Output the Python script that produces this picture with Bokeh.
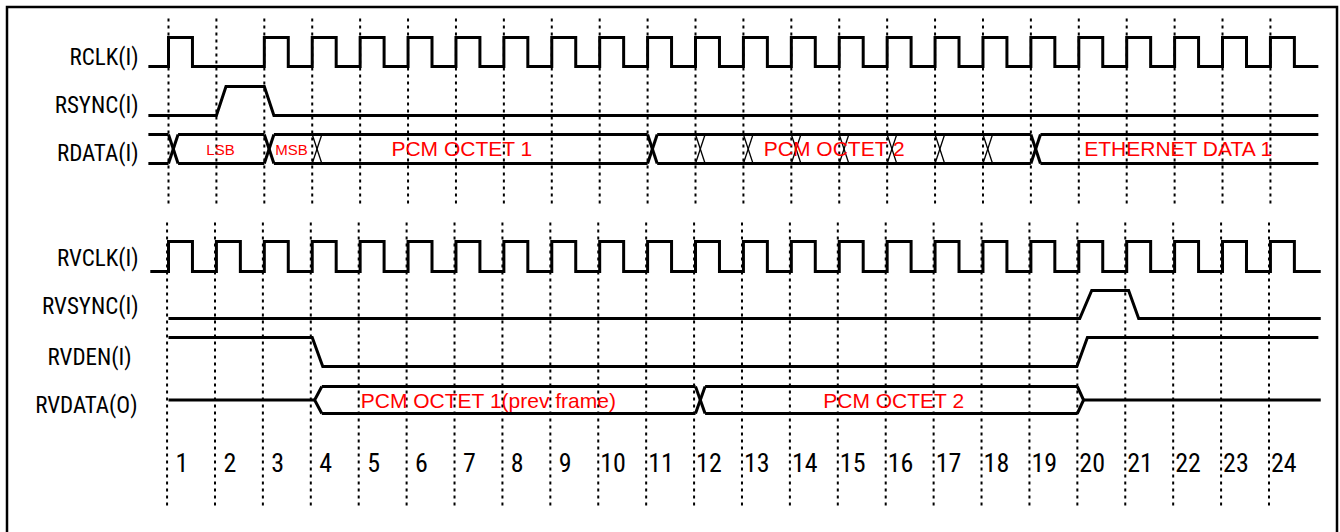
from bokeh.plotting import figure
from bokeh.models import Range1d
from bokeh.core.properties import value
from bokeh.embed import file_html
from bokeh.resources import INLINE

# ---------------- data ----------------
cycles = [1, 2, 3, 4, 5, 6, 7, 8, 9, 10, 11, 12, 13, 14, 15, 16, 17, 18, 19, 20, 21, 22, 23, 24]
cycle_labels = ["1", "2", "3", "4", "5", "6", "7", "8", "9", "10", "11", "12",
                "13", "14", "15", "16", "17", "18", "19", "20", "21", "22", "23", "24"]

signal_names = ["RCLK(I)", "RSYNC(I)", "RDATA(I)", "RVCLK(I)", "RVSYNC(I)", "RVDEN(I)", "RVDATA(O)"]

# clocks: cycles that carry a high pulse (half a cycle long)
rclk_pulses = [1, 3, 4, 5, 6, 7, 8, 9, 10, 11, 12, 13, 14, 15, 16, 17, 18, 19, 20, 21, 22, 23, 24]
rclk_span = [0.58, 25.0]
rvclk_pulses = [1, 2, 3, 4, 5, 6, 7, 8, 9, 10, 11, 12, 13, 14, 15, 16, 17, 18, 19, 20, 21, 22, 23, 24]
rvclk_span = [0.62, 25.05]

# level signals: (time, level)
rsync_t = [0.58, 2.0, 2.2, 3.0, 3.2, 25.0]
rsync_lv = [0, 0, 1, 1, 0, 0]
rvsync_t = [1.0, 20.02, 20.27, 21.04, 21.25, 25.05]
rvsync_lv = [0, 0, 1, 1, 0, 0]
rvden_t = [1.0, 4.0, 4.22, 19.96, 20.18, 25.0]
rvden_lv = [1, 1, 0, 0, 1, 1]

# RDATA bus
rdata_span = [0.58, 25.0]
rdata_major = [1, 3, 11, 19]
rdata_minor = [4, 12, 13, 14, 15, 16, 17, 18]
rdata_fields = ["LSB", "MSB", "PCM OCTET 1", "PCM OCTET 2", "ETHERNET DATA 1"]
rdata_field_t = [2.085, 3.567, 7.126, 14.90, 22.09]
rdata_field_small = [True, True, False, False, False]

# RVDATA bus (idle -> valid -> idle)
rvdata_idle1 = [1.0, 4.05]
rvdata_open = [4.05, 4.2]
rvdata_major = [12]
rvdata_close = [19.97, 20.1]
rvdata_idle2 = [20.1, 25.05]
rvdata_fields = ["PCM OCTET 1(prev frame)", "PCM OCTET 2"]
rvdata_field_t = [7.68, 16.14]

# ---------------- layout (page pixels) ----------------
W, H = 1340, 532
PX = 47.91                # pixels per cycle
X1 = 168.0                # page x of cycle 1
def tx(px):               # page x -> time
    return 1 + (px - X1) / PX

row_high = [37, 86, 134, 241, 290, 337, 386]
row_low = [66, 115, 163, 271, 318, 366, 413]
label_mid = [57, 105, 153, 258, 306, 357, 405]
label_right = [138, 138, 138, 138, 138, 131, 137]
XW = 0.2                  # crossing width (cycles)
NARROW = value("Liberation Sans Narrow, Noto Sans Condensed, Roboto Condensed, Roboto")

p = figure(width=W, height=H, output_backend="svg", toolbar_location=None,
           x_range=Range1d(tx(0), tx(W)), y_range=Range1d(H, 0),
           min_border=0, outline_line_color=None)
p.axis.visible = False
p.xgrid.visible = False
p.ygrid.visible = False
p.background_fill_color = "white"
p.border_fill_color = "white"

# outer frame
p.line(x=[tx(6.5), tx(6.5), tx(1336.5), tx(1336.5)], y=[600, 6.5, 6.5, 600],
       line_color="black", line_width=2.5, line_join="miter")

# dotted cycle markers
p.segment(x0=cycles, y0=[18] * 24, x1=cycles, y1=[204] * 24,
          line_color="black", line_width=2, line_dash="3 4")
p.segment(x0=[c - 0.03 for c in cycles], y0=[222] * 24, x1=[c - 0.03 for c in cycles], y1=[508] * 24,
          line_color="black", line_width=2, line_dash="3 4")

LW = 3

def clock(pulses, span, lo, hi):
    xs, ys = [span[0]], [lo]
    for c in pulses:
        xs += [c, c, c + 0.5, c + 0.5]
        ys += [lo, hi, hi, lo]
    xs.append(span[1]); ys.append(lo)
    p.line(xs, ys, line_color="black", line_width=LW, line_join="miter")

def level(ts, lvs, lo, hi):
    p.line(ts, [hi if v else lo for v in lvs], line_color="black", line_width=LW, line_join="miter")

clock(rclk_pulses, rclk_span, row_low[0], row_high[0])
level(rsync_t, rsync_lv, row_low[1], row_high[1])
clock(rvclk_pulses, rvclk_span, row_low[3], row_high[3])
level(rvsync_t, rvsync_lv, row_low[4], row_high[4])
level(rvden_t, rvden_lv, row_low[5], row_high[5])

# RDATA bus
top, bot = row_high[2], row_low[2]
edges = [rdata_span[0]] + [m for c in rdata_major for m in (c, c + XW)] + [rdata_span[1]]
seg_x0 = edges[0::2]; seg_x1 = edges[1::2]
p.segment(x0=seg_x0, y0=[top] * len(seg_x0), x1=seg_x1, y1=[top] * len(seg_x0), line_color="black", line_width=LW)
p.segment(x0=seg_x0, y0=[bot] * len(seg_x0), x1=seg_x1, y1=[bot] * len(seg_x0), line_color="black", line_width=LW)
p.segment(x0=rdata_major, y0=[top] * 4, x1=[c + XW for c in rdata_major], y1=[bot] * 4, line_color="black", line_width=LW)
p.segment(x0=rdata_major, y0=[bot] * 4, x1=[c + XW for c in rdata_major], y1=[top] * 4, line_color="black", line_width=LW)
n = len(rdata_minor)
p.segment(x0=rdata_minor, y0=[top] * n, x1=[c + XW for c in rdata_minor], y1=[bot] * n, line_color="black", line_width=1.3)
p.segment(x0=rdata_minor, y0=[bot] * n, x1=[c + XW for c in rdata_minor], y1=[top] * n, line_color="black", line_width=1.3)

# RVDATA bus
top, bot = row_high[6], row_low[6]
mid = (top + bot) / 2
p.line(rvdata_idle1, [mid, mid], line_color="black", line_width=LW)
p.line(rvdata_idle2, [mid, mid], line_color="black", line_width=LW)
m = rvdata_major[0]
p.line([rvdata_open[1], rvdata_open[0], rvdata_open[1]], [top, mid, bot], line_color="black", line_width=LW, line_join="miter")
p.line([rvdata_close[0], rvdata_close[1], rvdata_close[0]], [top, mid, bot], line_color="black", line_width=LW, line_join="miter")
p.segment(x0=[rvdata_open[1], m + XW], y0=[top, top], x1=[m, rvdata_close[0]], y1=[top, top], line_color="black", line_width=LW)
p.segment(x0=[rvdata_open[1], m + XW], y0=[bot, bot], x1=[m, rvdata_close[0]], y1=[bot, bot], line_color="black", line_width=LW)
p.segment(x0=[m, m], y0=[top, bot], x1=[m + XW, m + XW], y1=[bot, top], line_color="black", line_width=LW)

# signal names
p.text(x=[tx(r) for r in label_right], y=label_mid, text=signal_names,
       text_font=NARROW, text_font_size="23px",
       text_align="right", text_baseline="middle", text_color="black")

# cycle numbers
p.text(x=[c + 0.28 for c in cycles], y=[462] * 24, text=cycle_labels,
       text_font=NARROW, text_font_size="26px",
       text_align="center", text_baseline="middle", text_color="black")

# bus contents
big = [i for i, s in enumerate(rdata_field_small) if not s]
small = [i for i, s in enumerate(rdata_field_small) if s]
p.text(x=[rdata_field_t[i] for i in small], y=[148.5] * len(small), text=[rdata_fields[i] for i in small],
       text_font=value("Liberation Sans"), text_font_size="15px",
       text_align="center", text_baseline="middle", text_color="#ff0000")
p.text(x=[rdata_field_t[i] for i in big], y=[148] * len(big), text=[rdata_fields[i] for i in big],
       text_font=value("Liberation Sans"), text_font_size="21px",
       text_align="center", text_baseline="middle", text_color="#ff0000")
p.text(x=rvdata_field_t, y=[399.5] * 2, text=rvdata_fields,
       text_font=value("Liberation Sans"), text_font_size="21px",
       text_align="center", text_baseline="middle", text_color="#ff0000")

open("out.html", "w").write(file_html(p, INLINE))
